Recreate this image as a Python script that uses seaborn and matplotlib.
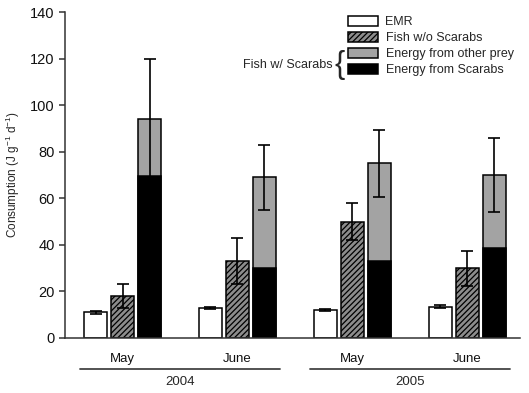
import seaborn as sns
import pandas as pd
import matplotlib.pyplot as plt
from matplotlib.patches import Patch
from matplotlib.transforms import blended_transform_factory

# Data
months = ['May', 'June', 'May', 'June']
years = ['2004', '2004', '2005', '2005']
series = ['EMR', 'Fish w/o Scarabs', 'Fish w/ Scarabs']
emr = [11, 13, 12, 13.5]
emr_err = [0.5, 0.5, 0.5, 0.5]
fish_wo = [18, 33, 50, 30]
fish_wo_err = [5, 10, 8, 7.5]
other_prey = [24.5, 39, 42, 31.5]
scarabs = [69.5, 30, 33, 38.5]
fish_w_err = [26, 14, 14.5, 16]

periods = [m + ' ' + y for m, y in zip(months, years)]
fish_w = [a + b for a, b in zip(other_prey, scarabs)]

df = pd.DataFrame({
    'period': periods * 3,
    'series': [series[0]] * 4 + [series[1]] * 4 + [series[2]] * 4,
    'value': emr + fish_wo + fish_w,
})

sns.set_style('ticks')
plt.rcParams['font.family'] = ['Liberation Sans', 'DejaVu Sans']
plt.rcParams['mathtext.default'] = 'regular'
plt.rcParams['hatch.linewidth'] = 0.9

fig = plt.figure(figsize=(5.29, 3.93), dpi=100)
ax = fig.add_axes([0.123, 0.14, 0.86, 0.829])

sns.barplot(data=df, x='period', y='value', hue='series', hue_order=series, order=periods,
            palette={series[0]: 'white', series[1]: '#8c8c8c', series[2]: '#a3a3a3'},
            width=0.705, gap=0.15, edgecolor='black', linewidth=1.1,
            errorbar=None, legend=False, ax=ax)
for p in ax.containers[1]:
    p.set_hatch('//////')

# scarab part of the stacked bar, same slots as the third hue level
slot = ax.containers[2]
xs_w = [p.get_x() + p.get_width() / 2 for p in slot]
ax.bar(xs_w, scarabs, width=slot[0].get_width(), color='black', edgecolor='black', linewidth=1.1)

# error bars
for cont, vals, errs in zip(ax.containers[:3], [emr, fish_wo, fish_w], [emr_err, fish_wo_err, fish_w_err]):
    xs = [p.get_x() + p.get_width() / 2 for p in cont]
    ax.errorbar(xs, vals, yerr=errs, fmt='none', ecolor='black', elinewidth=1.2,
                capsize=4.5, capthick=1.2, zorder=5)

ax.set_xlim(-0.5, 3.46)
ax.set_ylim(0, 140)
ax.set_yticks(range(0, 141, 20))
ax.tick_params(axis='y', labelsize=10.5, length=4, width=1.1, color='#333333', labelcolor='#111111')
ax.tick_params(axis='x', labelsize=9.5, length=0, pad=11, labelcolor='#111111')
ax.set_xticks(range(4))
ax.set_xticklabels(months)
ax.set_xlabel('')
ax.set_ylabel('Consumption (J g$^{-1}$ d$^{-1}$)', fontsize=8.5, labelpad=6)
sns.despine(ax=ax)
for s in ['left', 'bottom']:
    ax.spines[s].set_linewidth(1.1)
    ax.spines[s].set_color('#333333')

# year lines and labels
trans = blended_transform_factory(ax.transData, ax.transAxes)
for yr in ['2004', '2005']:
    pos = [i for i, y in enumerate(years) if y == yr]
    c = sum(pos) / len(pos)
    ax.plot([c - 0.87, c + 0.87], [-0.095, -0.095], color='#444444', lw=1.3,
            transform=trans, clip_on=False)
    ax.text(c, -0.135, yr, transform=trans, ha='center', va='center', fontsize=9.5)

# legend
handles = [
    Patch(facecolor='white', edgecolor='black', linewidth=1.1, label='EMR'),
    Patch(facecolor='#8c8c8c', edgecolor='black', linewidth=1.1, hatch='//////', label='Fish w/o Scarabs'),
    Patch(facecolor='#a3a3a3', edgecolor='black', linewidth=1.1, label='Energy from other prey'),
    Patch(facecolor='black', edgecolor='black', linewidth=1.1, label='Energy from Scarabs'),
]
fig.legend(handles=handles, loc='upper left', bbox_to_anchor=(348 / 529, 1 - 16 / 393),
           frameon=False, fontsize=9, handlelength=2.4, handleheight=0.8,
           handletextpad=0.6, labelspacing=0.32, borderpad=0, borderaxespad=0)
fig.text(333 / 529, 1 - 65 / 393, 'Fish w/ Scarabs', ha='right', va='center', fontsize=9)
fig.text(334 / 529, 1 - 65 / 393, '{', ha='left', va='center', fontsize=22, fontweight='light')

fig.savefig('out.png', dpi=100)
